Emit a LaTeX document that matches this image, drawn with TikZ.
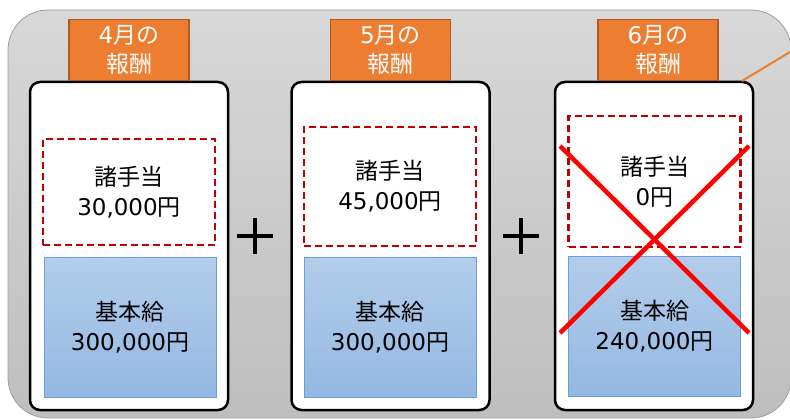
\documentclass[tikz,border=0pt]{standalone}
\usepackage{fontspec}
\setmainfont{Noto Sans CJK JP}
\newfontfamily\numfont{DejaVu Sans}
\usetikzlibrary{positioning}

\definecolor{tagorange}{HTML}{ED7D31}
\definecolor{tagedge}{HTML}{AE5A21}
\definecolor{dashred}{HTML}{C00000}
\definecolor{basetop}{HTML}{B3CDEA}
\definecolor{basebot}{HTML}{94B8E3}
\definecolor{baseedge}{HTML}{6A9FD8}
\definecolor{paneltop}{HTML}{D8D8D8}
\definecolor{panelbot}{HTML}{BEBEBE}

\newcommand{\amount}[1]{{\numfont #1}円}

\begin{document}
\begin{tikzpicture}[
    x=1pt, y=-1pt,
    panel/.style={draw=gray!75, line width=0.8pt, rounded corners=40pt, top color=paneltop, bottom color=panelbot},
    card/.style={draw, line width=2.5pt, fill=white, rounded corners=10pt, minimum width=198pt, minimum height=328pt, inner sep=0pt},
    tag/.style={draw=tagedge, line width=1.2pt, fill=tagorange, text=white, minimum width=120pt, minimum height=61pt, inner sep=0pt, align=center, font=\fontsize{23}{29}\selectfont},
    allowance/.style={draw=dashred, line width=2.2pt, dash pattern=on 7pt off 4pt, fill=white, minimum width=172pt, inner sep=0pt, align=center, font=\fontsize{23}{30}\selectfont},
    salary/.style={draw=baseedge, line width=0.8pt, top color=basetop, bottom color=basebot, minimum width=172pt, minimum height=140pt, inner sep=0pt, align=center, font=\fontsize{23}{30}\selectfont},
    plus/.style={line width=4pt},
    cross/.style={red, line width=4.5pt},
    pointer/.style={tagorange, line width=2pt}
  ]
  \useasboundingbox (0,0) rectangle (790,420);
  \path[panel] (8,10) rectangle (791,418);

  % cards
  \node[card] (card1) at (129,246) {};
  \node[card] (card2) at (390.5,246) {};
  \node[card] (card3) at (654,246) {};

  % month tags
  \node[tag, above=0pt of card1] (tag1) {{\numfont 4}月の\\報酬};
  \node[tag, above=0pt of card2] (tag2) {{\numfont 5}月の\\報酬};
  \node[tag, above=0pt of card3, xshift=4pt] (tag3) {{\numfont 6}月の\\報酬};

  % allowances
  \node[allowance, minimum height=106pt] (allow1) at (129,192) {諸手当\\\amount{30,000}};
  \node[allowance, minimum height=119pt] (allow2) at (390,186.5) {諸手当\\\amount{45,000}};
  \node[allowance, minimum height=131pt] (allow3) at (654.5,181.5) {諸手当\\\amount{0}};

  % base salary
  \node[salary] (base1) at (130,327) {基本給\\\amount{300,000}};
  \node[salary] (base2) at (390,327) {基本給\\\amount{300,000}};
  \node[salary] (base3) at (654.5,326) {基本給\\\amount{240,000}};

  % plus signs
  \coordinate (plus1) at (255,236);
  \coordinate (plus2) at (521,236);
  \draw[plus] (plus1) +(-18,0) -- +(18,0) +(0,-18) -- +(0,18);
  \draw[plus] (plus2) +(-18,0) -- +(18,0) +(0,-18) -- +(0,18);

  % crossed out
  \coordinate (xa) at (560,146);
  \coordinate (xb) at (749,333);
  \coordinate (xc) at (560,333);
  \coordinate (xd) at (749,146);
  \draw[cross] (xa) -- (xb);
  \draw[cross] (xc) -- (xd);

  % pointer off to the right
  \coordinate (ptail) at (742,81);
  \coordinate (phead) at (790,52);
  \draw[pointer] (ptail) -- (phead);
\end{tikzpicture}
\end{document}
